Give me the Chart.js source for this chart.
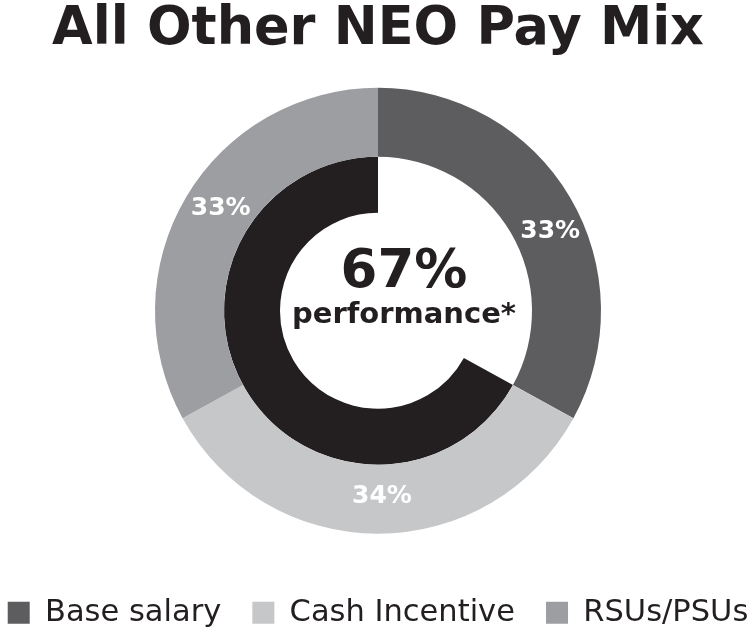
<!DOCTYPE html>
<html>
<head>
<meta charset="utf-8">
<script src="https://cdn.jsdelivr.net/npm/chart.js@4"></script>
<style>
  html, body { margin: 0; padding: 0; background: #ffffff; }
  #wrap { width: 756px; height: 635px; }
</style>
</head>
<body>
<div id="wrap"><canvas id="c" width="756" height="635"></canvas></div>
<script>
// ---- data ----
const categories = ['Base salary', 'Cash Incentive', 'RSUs/PSUs'];
const payMix = [33, 34, 33];
const payMixLabels = ['33%', '34%', '33%'];
const performanceSplit = [33, 67];          // [fixed (blank), performance-based]
const centerValue = '67%';
const centerCaption = 'performance*';
const chartTitle = 'All Other NEO Pay Mix';

// ---- styles ----
const FONT = "'DejaVu Sans', Verdana, sans-serif";
const TEXT = '#231f20';
const segColors = ['#5d5d60', '#c6c7c9', '#9d9ea1'];
const innerColors = ['#ffffff', '#231f20'];
const labelNudge = [{dx: 10, dy: 17}, {dx: 4, dy: -3}, {dx: 5, dy: -6}];

const labelPlugin = {
  id: 'labelsAndCenter',
  afterDatasetsDraw(chart) {
    const ctx = chart.ctx;
    const meta = chart.getDatasetMeta(0);
    ctx.save();
    ctx.fillStyle = '#ffffff';
    ctx.font = 'bold 25px ' + FONT;
    ctx.textAlign = 'center';
    ctx.textBaseline = 'middle';
    meta.data.forEach((arc, i) => {
      const p = arc.tooltipPosition();
      ctx.fillText(payMixLabels[i], p.x + labelNudge[i].dx, p.y + labelNudge[i].dy);
    });
    const cx = (chart.chartArea.left + chart.chartArea.right) / 2;
    const cy = (chart.chartArea.top + chart.chartArea.bottom) / 2;
    ctx.fillStyle = TEXT;
    ctx.textBaseline = 'alphabetic';
    ctx.font = 'bold 53px ' + FONT;
    ctx.fillText(centerValue, cx + 26, cy - 24);
    ctx.font = 'bold 29px ' + FONT;
    ctx.fillText(centerCaption, cx + 26, cy + 12);
    ctx.restore();
  }
};

new Chart(document.getElementById('c'), {
  type: 'doughnut',
  data: {
    labels: categories,
    datasets: [
      {
        data: payMix,
        backgroundColor: segColors,
        borderWidth: 0,
        weight: 69
      },
      {
        data: performanceSplit,
        backgroundColor: innerColors,
        borderWidth: 0,
        weight: 56
      }
    ]
  },
  options: {
    responsive: false,
    animation: false,
    events: [],
    radius: 223,
    cutout: '43.95%',
    layout: { padding: { top: 0, left: 0, right: 0, bottom: -3 } },
    plugins: {
      tooltip: { enabled: false },
      title: {
        display: true,
        text: chartTitle,
        color: TEXT,
        font: { family: FONT, size: 52.5, weight: 'bold', lineHeight: '2px' },
        padding: { top: 29, bottom: -5 }
      },
      legend: {
        display: true,
        position: 'bottom',
        labels: {
          color: TEXT,
          font: { family: FONT, size: 30.5 },
          boxWidth: 22,
          boxHeight: 22,
          padding: 2,
          generateLabels(chart) {
            const items = Chart.overrides.doughnut.plugins.legend.labels.generateLabels(chart);
            return items.map((it, i) => {
              it.lineWidth = 0;
              if (i < items.length - 1) it.text = it.text + '\u00A0\u00A0\u00A0';
              return it;
            });
          }
        }
      }
    }
  },
  plugins: [labelPlugin]
});
</script>
</body>
</html>
